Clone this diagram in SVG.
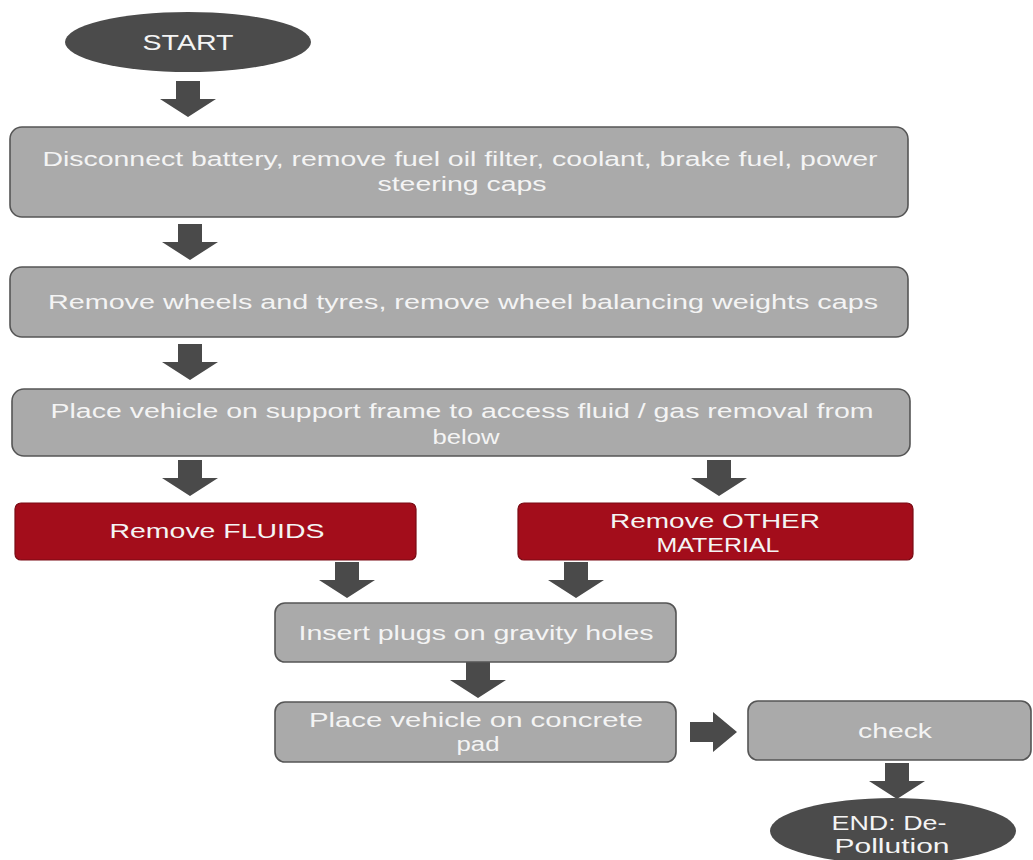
<svg xmlns="http://www.w3.org/2000/svg" width="1033" height="860" viewBox="0 0 1033 860">
<defs>
<style>
.box{fill:#aaaaaa;stroke:#555555;stroke-width:1.6}
.red{fill:#a30d1b;stroke:#7a0a14;stroke-width:1.2}
.term{fill:#4b4b4b}
.arrow{fill:#4a4a4a}
text{font-family:"Liberation Sans",Arial,sans-serif;fill:#f4f4f4;text-anchor:middle;font-size:20px}
.big{font-size:22px}
</style>
<path id="down" d="M-12,0 H12 V18 H28 L0,36 L-28,18 H-12 Z"/>
<path id="right" d="M0,-10 H23 V-20 L47,0 L23,20 V10 H0 Z"/>
</defs>
<rect width="1033" height="860" fill="#ffffff"/>
<g id="connectors" class="arrow">
<use href="#down" x="188" y="81"/>
<use href="#down" x="190" y="224"/>
<use href="#down" x="190" y="344"/>
<use href="#down" x="190" y="460"/>
<use href="#down" x="719" y="460"/>
<use href="#down" x="347" y="562"/>
<use href="#down" x="576" y="562"/>
<use href="#down" x="478" y="662"/>
<use href="#right" x="690" y="732"/>
<use href="#down" x="897" y="763"/>
</g>
<g id="start">
<ellipse class="term" cx="188" cy="42" rx="123" ry="30"/>
<text class="big" x="188" y="50" textLength="91" lengthAdjust="spacingAndGlyphs">START</text>
</g>
<g id="step1">
<rect class="box" x="10" y="127" width="898" height="90" rx="12"/>
<text x="460" y="166" textLength="835" lengthAdjust="spacingAndGlyphs">Disconnect battery, remove fuel oil filter, coolant, brake fuel, power</text>
<text x="462" y="191" textLength="169" lengthAdjust="spacingAndGlyphs">steering caps</text>
</g>
<g id="step2">
<rect class="box" x="10" y="267" width="898" height="70" rx="12"/>
<text x="463" y="309" textLength="830" lengthAdjust="spacingAndGlyphs">Remove wheels and tyres, remove wheel balancing weights caps</text>
</g>
<g id="step3">
<rect class="box" x="12" y="389" width="898" height="67" rx="12"/>
<text x="462" y="418" textLength="823" lengthAdjust="spacingAndGlyphs">Place vehicle on support frame to access fluid / gas removal from</text>
<text x="466" y="444" textLength="67" lengthAdjust="spacingAndGlyphs">below</text>
</g>
<g id="fluids">
<rect class="red" x="15" y="503" width="401" height="57" rx="6"/>
<text x="217" y="538" textLength="215" lengthAdjust="spacingAndGlyphs">Remove FLUIDS</text>
</g>
<g id="other">
<rect class="red" x="518" y="503" width="395" height="57" rx="6"/>
<text x="715" y="528" textLength="210" lengthAdjust="spacingAndGlyphs">Remove OTHER</text>
<text x="718" y="552" textLength="123" lengthAdjust="spacingAndGlyphs">MATERIAL</text>
</g>
<g id="plugs">
<rect class="box" x="275" y="603" width="401" height="59" rx="10"/>
<text x="476" y="640" textLength="355" lengthAdjust="spacingAndGlyphs">Insert plugs on gravity holes</text>
</g>
<g id="pad">
<rect class="box" x="275" y="702" width="401" height="60" rx="10"/>
<text x="476" y="727" textLength="334" lengthAdjust="spacingAndGlyphs">Place vehicle on concrete</text>
<text x="478" y="751" textLength="43" lengthAdjust="spacingAndGlyphs">pad</text>
</g>
<g id="check">
<rect class="box" x="748" y="701" width="283" height="59" rx="10"/>
<text x="895" y="738" textLength="74" lengthAdjust="spacingAndGlyphs">check</text>
</g>
<g id="end">
<ellipse class="term" cx="893" cy="831" rx="123" ry="33"/>
<text x="889" y="830" textLength="115" lengthAdjust="spacingAndGlyphs">END: De-</text>
<text x="892" y="853" textLength="115" lengthAdjust="spacingAndGlyphs">Pollution</text>
</g>
</svg>
